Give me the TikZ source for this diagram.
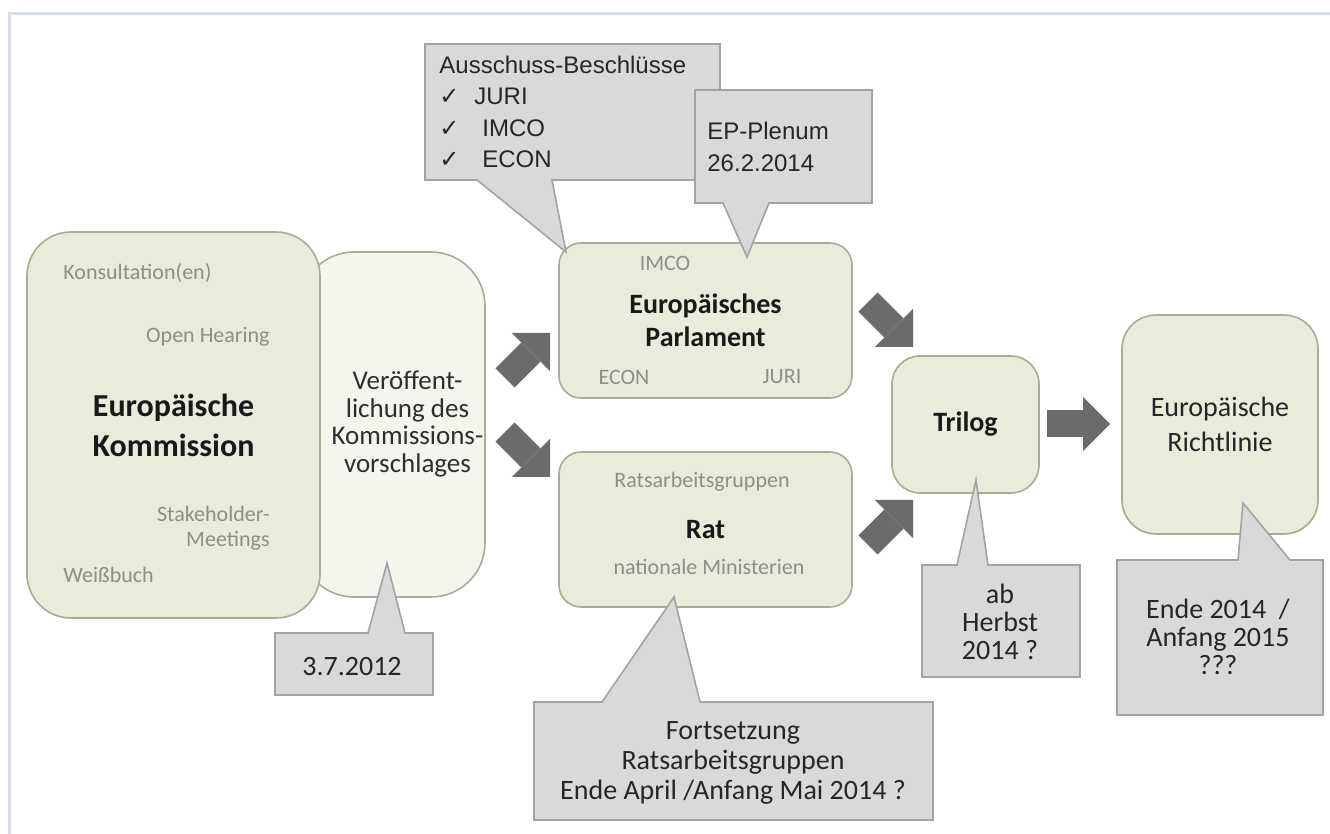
\documentclass[tikz,border=0pt]{standalone}
\usepackage{fontspec}
\setmainfont{Carlito}
\newfontfamily\notefont{Liberation Sans}
\newfontfamily\tickfont{DejaVu Sans}
\usetikzlibrary{arrows.meta}
\definecolor{boxfill}{HTML}{E9EBDB}
\definecolor{boxlight}{HTML}{F4F6EE}
\definecolor{boxborder}{HTML}{A8AC92}
\definecolor{notefill}{HTML}{D9D9D9}
\definecolor{noteborder}{HTML}{A3A3A3}
\definecolor{notetext}{HTML}{262626}
\definecolor{arrowgrey}{HTML}{6B6B6B}
\definecolor{subtext}{HTML}{8E8E86}
\definecolor{frameblue}{HTML}{D5DCEB}

\begin{document}
\begin{tikzpicture}[x=0.5pt, y=-0.5pt,
    box/.style={draw=boxborder, fill=boxfill, line width=0.8pt, inner sep=0pt, align=center},
    title/.style={text=black!90, font=\fontsize{14}{16.7}\selectfont\bfseries},
    sub/.style={text=subtext, font=\fontsize{11}{12.5}\selectfont, inner sep=0pt},
    note/.style={fill=notefill, draw=noteborder, line width=0.8pt},
    notelabel/.style={text=notetext, font=\fontsize{14}{14}\selectfont, align=center, inner sep=0pt},
    blockarrow/.style={draw=arrowgrey, line width=13.5pt, -{Triangle[length=13.5pt, width=27pt, line width=0pt]}}]
  \useasboundingbox (0,0) rectangle (1330,834);
  \draw[frameblue, line width=1.5pt] (9.5,834) -- (9.5,13.5) -- (1330,13.5);

  \node[box, fill=boxlight, minimum width=92.5pt, minimum height=172.5pt, rounded corners=27pt] (veroeff) at (392.5,424.5) {};
  \node[text=black!82, font=\fontsize{13.5}{13.7}\selectfont, align=center] (veroefftext) at (407.5,424) {Veröffent-\\lichung des\\Kommissions-\\vorschlages};
  \node[box, title, font=\fontsize{16}{20}\selectfont\bfseries, minimum width=146.5pt, minimum height=193pt, rounded corners=22pt] (komm) at (173.5,425) {Europäische\\Kommission};
  \node[sub, anchor=west] (konsult) at (63,273) {Konsultation(en)};
  \node[sub, anchor=east] (hearing) at (270,337) {Open Hearing};
  \node[sub, anchor=east, align=right] (stake) at (270,528) {Stakeholder-\\Meetings};
  \node[sub, anchor=west] (weiss) at (63,575) {Weißbuch};

  \node[box, title, minimum width=146.5pt, minimum height=77.5pt, rounded corners=11pt] (ep) at (705.5,320.5) {Europäisches\\Parlament};
  \node[sub] (imco) at (665,263) {IMCO};
  \node[sub] (econ) at (624,377) {ECON};
  \node[sub] (juri) at (782,377) {JURI};

  \node[box, title, minimum width=146.5pt, minimum height=77.5pt, rounded corners=11pt] (rat) at (705.5,529.5) {Rat};
  \node[sub] (gruppen) at (702,482) {Ratsarbeitsgruppen};
  \node[sub] (minist) at (709,567) {nationale Ministerien};

  \node[box, title, minimum width=73.5pt, minimum height=68.5pt, rounded corners=14pt] (trilog) at (965.5,424.5) {Trilog};
  \node[box, font=\fontsize{14}{17.5}\selectfont, text=black!85, minimum width=98pt, minimum height=109.5pt, rounded corners=17pt] (richtlinie) at (1220,424.5) {Europäische\\Richtlinie};

  \coordinate (pubup) at (505,378);   \coordinate (epin) at (550,333);
  \coordinate (pubdown) at (505,432); \coordinate (ratin) at (550,477);
  \coordinate (epout) at (868,302);   \coordinate (trilup) at (913,347);
  \coordinate (ratout) at (868,545);  \coordinate (trildown) at (913,500);
  \coordinate (trilout) at (1047,424); \coordinate (richtin) at (1110,424);
  \draw[blockarrow] (pubup) -- (epin);
  \draw[blockarrow] (pubdown) -- (ratin);
  \draw[blockarrow] (epout) -- (trilup);
  \draw[blockarrow] (ratout) -- (trildown);
  \draw[blockarrow] (trilout) -- (richtin);

  \filldraw[note] (275,633) -- (368,633) -- (387,563) -- (405,633) -- (433,633) -- (433,695) -- (275,695) -- cycle;
  \node[notelabel] (datum) at (352,667) {3.7.2012};
  \filldraw[note] (534,702) -- (602,702) -- (674,597) -- (700,702) -- (933,702) -- (933,820) -- (534,820) -- cycle;
  \node[notelabel, font=\fontsize{14}{15}\selectfont] (fortsetzung) at (733,763) {Fortsetzung\\Ratsarbeitsgruppen\\Ende April /Anfang Mai 2014 ?};
  \filldraw[note] (922,565) -- (957,565) -- (976,480) -- (988,565) -- (1080,565) -- (1080,677) -- (922,677) -- cycle;
  \node[notelabel] (herbst) at (1000,622) {ab\\Herbst\\2014 ?};
  \filldraw[note] (1117,560) -- (1238,560) -- (1243,503) -- (1290,560) -- (1323,560) -- (1323,715) -- (1117,715) -- cycle;
  \node[notelabel] (ende) at (1218,637) {Ende 2014~~/\\Anfang 2015\\???};

  \filldraw[note] (425,44) -- (720,44) -- (720,180) -- (552,180) -- (566,252) -- (477,180) -- (425,180) -- cycle;
  \node[notelabel, font=\notefont\fontsize{12}{15.8}\selectfont, align=left, anchor=west] (ausschuss) at (439,112)
    {Ausschuss-Beschlüsse\\\makebox[17.5pt][l]{\tickfont ✓}JURI\\\makebox[21.5pt][l]{\tickfont ✓}IMCO\\\makebox[21.5pt][l]{\tickfont ✓}ECON};
  \filldraw[note] (695,90) -- (872,90) -- (872,203) -- (769,203) -- (747,257) -- (723,203) -- (695,203) -- cycle;
  \node[notelabel, font=\notefont\fontsize{12}{15.8}\selectfont, align=left, anchor=west] (plenum) at (707,147) {EP-Plenum\\26.2.2014};
\end{tikzpicture}
\end{document}
